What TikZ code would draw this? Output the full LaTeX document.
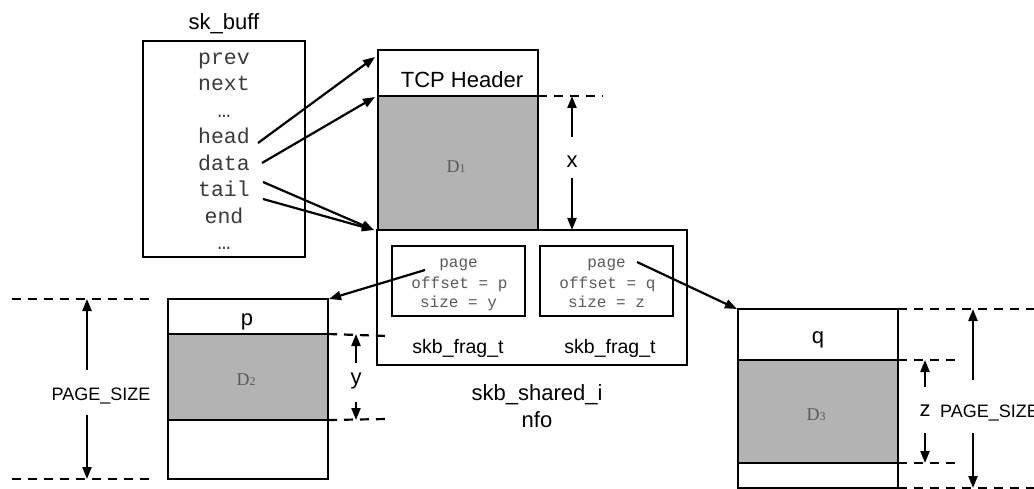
\documentclass[tikz,border=0pt]{standalone}
\usepackage{fontspec}
\setmainfont{Liberation Sans}
\newfontfamily\monof{Liberation Mono}
\newfontfamily\dserif{Liberation Serif}
\usetikzlibrary{arrows.meta}
\definecolor{dgray}{HTML}{B3B3B3}
\definecolor{mtext}{HTML}{3A3A3A}
\definecolor{ftext}{HTML}{5A5A5A}
\newcommand{\dlab}[1]{{\dserif\fontsize{18}{18}\selectfont D\fontsize{12}{12}\selectfont #1}}
\begin{document}
\begin{tikzpicture}[x=1pt,y=-1pt,
  box/.style={draw=black, line width=2.2pt, rectangle, inner sep=0pt, outer sep=0pt},
  lbl/.style={inner sep=0pt, font=\fontsize{22}{22}\selectfont},
  slbl/.style={inner sep=0pt, font=\fontsize{19.5}{19.5}\selectfont},
  plbl/.style={inner sep=0pt, font=\fontsize{18}{18}\selectfont},
  mono/.style={inner sep=0pt, text=mtext, font=\monof\fontsize{21.5}{21.5}\selectfont},
  fmono/.style={inner sep=0pt, text=ftext, font=\monof\fontsize{16}{16}\selectfont},
  dlbl/.style={inner sep=0pt, text=ftext},
  arr/.style={line width=2.2pt, -{Triangle[length=12pt,width=9pt]}},
  dimline/.style={line width=2.2pt, dash pattern=on 9pt off 7pt},
]
\useasboundingbox (0,0) rectangle (1034,489);
\fill[white] (0,0) rectangle (1034,489);

% ---------- sk_buff ----------
\node[box, minimum width=162pt, minimum height=216pt] (skb) at (224,149) {};
\node[lbl, anchor=base] (skbt) at (224,30) {sk\_buff};
\foreach \n/\t/\y in {prev/prev/64.5, next/next/91, dotsa/…/117.5, head/head/144,
  data/data/170.5, tail/tail/197, end/end/223.5, dotsb/…/250}
  \node[mono, anchor=base] (\n) at (224,\y) {\t};

% ---------- TCP buffer ----------
\node[box, minimum width=160pt, minimum height=46pt] (hdr) at (458,73) {};
\node[lbl, anchor=base] (hdrt) at (462,88) {TCP Header};
\node[box, fill=dgray, minimum width=160pt, minimum height=134pt] (d1) at (458,163) {};
\node[dlbl] (d1t) at (456,167) {\dlab{1}};

% ---------- skb_shared_info ----------
\node[box, minimum width=310pt, minimum height=135pt] (shi) at (532,297.5) {};
\node[box, minimum width=133pt, minimum height=70pt] (f1) at (458.5,281) {};
\node[box, minimum width=133pt, minimum height=70pt] (f2) at (606.5,281) {};
\node[fmono, anchor=base] (f1a) at (458.5,268) {page};
\node[fmono, anchor=base] (f1b) at (459.5,288) {offset = p};
\node[fmono, anchor=base] (f1c) at (458.5,308) {size = y};
\node[fmono, anchor=base] (f2a) at (606.5,268) {page};
\node[fmono, anchor=base] (f2b) at (607.5,288) {offset = q};
\node[fmono, anchor=base] (f2c) at (606.5,308) {size = z};
\node[slbl, anchor=base] (f1l) at (458,353) {skb\_frag\_t};
\node[slbl, anchor=base] (f2l) at (610,353) {skb\_frag\_t};
\node[lbl, anchor=base] (shia) at (537,400) {skb\_shared\_i};
\node[lbl, anchor=base] (shib) at (537,427) {nfo};

% ---------- page p ----------
\node[box, minimum width=160pt, minimum height=35pt] (ph) at (248,316.5) {};
\node[box, fill=dgray, minimum width=160pt, minimum height=86pt] (d2) at (248,377) {};
\node[box, minimum width=160pt, minimum height=59pt] (pb) at (248,449.5) {};
\node[lbl, anchor=base] (pt) at (247,325) {p};
\node[dlbl] (d2t) at (246,380) {\dlab{2}};

% ---------- page q ----------
\node[box, minimum width=160pt, minimum height=51pt] (qh) at (818,334.5) {};
\node[box, fill=dgray, minimum width=160pt, minimum height=103pt] (d3) at (818,411.5) {};
\node[box, minimum width=160pt, minimum height=25pt] (qb) at (818,475.5) {};
\node[lbl, anchor=base] (qt) at (818,343) {q};
\node[dlbl] (d3t) at (816,415) {\dlab{3}};

% ---------- pointers from sk_buff ----------
\coordinate (hs) at (258,143);
\coordinate (ds) at (262,163);
\coordinate (ts) at (263,182);
\coordinate (es) at (263,199);
\draw[arr] (hs) -- ([xshift=-3pt,yshift=-7pt]hdr.north west);
\draw[arr] (ds) -- ([xshift=-3pt,yshift=-1pt]hdr.south west);
\draw[arr] (ts) -- ([xshift=-3pt]shi.north west);
\draw[arr] (es) -- ([xshift=-3pt]shi.north west);

% ---------- pointers from frags ----------
\coordinate (f1s) at (425,270);
\coordinate (f2s) at (637,262);
\draw[arr] (f1s) -- ([xshift=1pt]ph.north east);
\draw[arr] (f2s) -- ([xshift=-1pt]qh.north west);

% ---------- x dimension ----------
\coordinate (xe1) at (603,96);
\draw[dimline] (d1.north east) -- (xe1);
\node[lbl] (xl) at (572,162) {x};
\draw[arr] (572,137) -- (xl |- d1.north);
\draw[arr] (572,178) -- (xl |- d1.south);

% ---------- y dimension ----------
\coordinate (ye1) at (387,336);
\coordinate (ye2) at (387,419);
\draw[dimline] (d2.north east) -- (ye1);
\draw[dimline] (d2.south east) -- (ye2);
\node[lbl] (yl) at (356,381) {y};
\draw[arr] (356,363) -- (yl |- d2.north);
\draw[arr] (356,402) -- (yl |- d2.south);

% ---------- left PAGE_SIZE ----------
\coordinate (pl1) at (12,299);
\coordinate (pl2) at (155,299);
\coordinate (pl3) at (12,479);
\coordinate (pl4) at (155,479);
\draw[dimline] (pl1) -- (pl2);
\draw[dimline] (pl3) -- (pl4);
\node[plbl, anchor=base] (psl) at (101,400) {PAGE\_SIZE};
\draw[arr] (87,370) -- (87,299);
\draw[arr] (87,415) -- (87,479);

% ---------- z dimension ----------
\coordinate (ze1) at (955,360);
\coordinate (ze2) at (955,463);
\draw[dimline] (d3.north east) -- (ze1);
\draw[dimline] (d3.south east) -- (ze2);
\node[lbl] (zl) at (925,411) {z};
\draw[arr] (925,387) -- (zl |- d3.north);
\draw[arr] (925,433) -- (zl |- d3.south);

% ---------- right PAGE_SIZE ----------
\coordinate (pr1) at (1040,309);
\coordinate (pr2) at (1040,488);
\draw[dimline] (qh.north east) -- (pr1);
\draw[dimline] (qb.south east) -- (pr2);
\node[plbl, anchor=base west] (psr) at (940,417) {PAGE\_SIZE};
\draw[arr] (973,380) -- (973,309);
\draw[arr] (973,433) -- (973,488);
\end{tikzpicture}
\end{document}
